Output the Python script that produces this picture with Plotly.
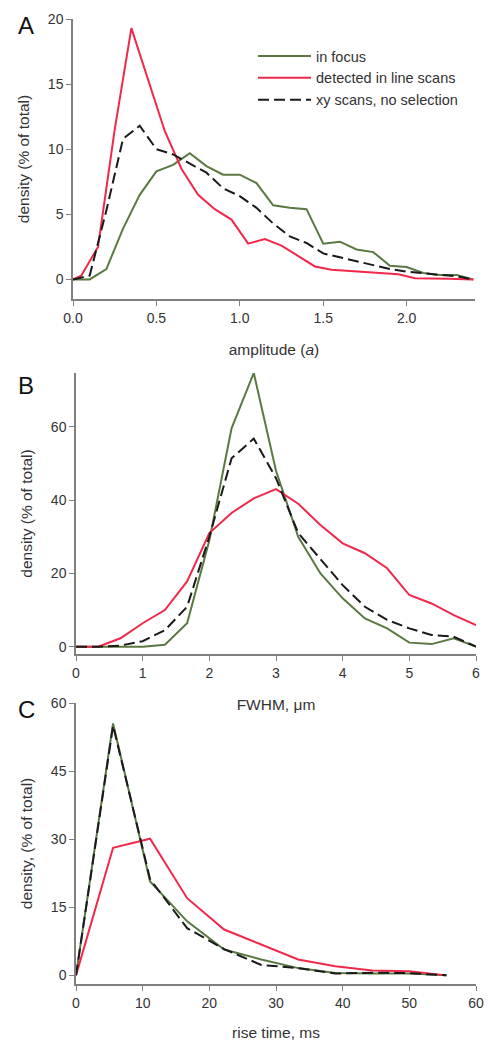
import plotly.graph_objects as go

W, H = 491, 1041

# panel A: amplitude
amp_x = [0.0, 0.1, 0.2, 0.3, 0.4, 0.5, 0.6, 0.7, 0.8, 0.9, 1.0, 1.1, 1.2, 1.3,
         1.4, 1.5, 1.6, 1.7, 1.8, 1.9, 2.0, 2.1, 2.2, 2.3, 2.4]
amp_focus = [0, 0, 0.8, 3.9, 6.5, 8.3, 8.8, 9.7, 8.7, 8.05, 8.05, 7.4, 5.7, 5.5,
             5.4, 2.75, 2.9, 2.3, 2.1, 1.05, 0.95, 0.5, 0.35, 0.35, 0]
amp_xy = [0, 0.3, 5.3, 10.8, 11.8, 10.0, 9.6, 8.9, 8.2, 7.0, 6.4, 5.5, 4.3, 3.3,
          2.8, 2.0, 1.7, 1.4, 1.05, 0.8, 0.6, 0.45, 0.35, 0.25, 0]
amp_line_x = [0.0, 0.05, 0.15, 0.25, 0.35, 0.45, 0.55, 0.65, 0.75, 0.85, 0.95, 1.05,
              1.15, 1.25, 1.35, 1.45, 1.55, 1.65, 1.75, 1.85, 1.95, 2.05, 2.15,
              2.25, 2.35, 2.4]
amp_line = [0, 0.3, 2.5, 11.5, 19.3, 15.3, 11.4, 8.5, 6.5, 5.4, 4.6, 2.75, 3.1,
            2.6, 1.8, 1.0, 0.75, 0.65, 0.55, 0.5, 0.4, 0.1, 0.05, 0.05, 0.02, 0]

# panel B: FWHM
fw_x = [0, 1/3, 2/3, 1, 4/3, 5/3, 2, 7/3, 8/3, 3, 10/3, 11/3, 4, 13/3, 14/3,
        5, 16/3, 17/3, 6]
fw_focus = [0, 0, 0, 0, 0.5, 6.4, 29, 59.6, 74.7, 48, 30, 20, 13.2, 7.7, 5,
            1.1, 0.7, 2.3, 0]
fw_line = [0, 0, 2.3, 6.4, 10, 17.8, 31, 36.5, 40.5, 43, 39, 33.2, 28.2, 25.5,
           21.4, 14.1, 11.8, 8.6, 5.9]
fw_xy = [0, 0, 0.3, 1.5, 4.5, 10.9, 30, 51.4, 56.8, 46, 31, 24, 16.8, 10.9,
         7.3, 5, 3.2, 2.7, 0]

# panel C: rise time
rt_x = [0, 5.56, 11.11, 16.67, 22.22, 27.78, 33.33, 38.89, 44.44, 50.0, 55.56]
rt_focus = [0, 55.5, 20.7, 11.9, 5.7, 3.5, 1.6, 0.5, 0.4, 0.4, 0]
rt_line = [0, 28.1, 30.1, 17.0, 10.1, 6.8, 3.5, 2.0, 1.1, 0.9, 0]
rt_xy = [0, 55.0, 21.2, 10.4, 5.8, 2.3, 1.6, 0.4, 0.6, 0.5, 0]

GREEN = "#5b7843"
RED = "#f0284a"
BLACK = "#1a1a1a"
FONT = "Arial, Liberation Sans, sans-serif"

fig = go.Figure()


def add_panel(n, x_focus, y_focus, x_line, y_line, x_xy, y_xy, legend):
    xa = "x" if n == 1 else f"x{n}"
    ya = "y" if n == 1 else f"y{n}"
    fig.add_trace(go.Scatter(x=x_focus, y=y_focus, mode="lines", name="in focus",
                             line=dict(color=GREEN, width=2),
                             xaxis=xa, yaxis=ya, showlegend=legend))
    fig.add_trace(go.Scatter(x=x_line, y=y_line, mode="lines",
                             name="detected in line scans",
                             line=dict(color=RED, width=2),
                             xaxis=xa, yaxis=ya, showlegend=legend))
    fig.add_trace(go.Scatter(x=x_xy, y=y_xy, mode="lines",
                             name="xy scans, no selection",
                             line=dict(color=BLACK, width=2, dash="11px,5px"),
                             xaxis=xa, yaxis=ya, showlegend=legend))


add_panel(1, amp_x, amp_focus, amp_line_x, amp_line, amp_x, amp_xy, True)
add_panel(2, fw_x, fw_focus, fw_x, fw_line, fw_x, fw_xy, False)
add_panel(3, rt_x, rt_focus, rt_x, rt_line, rt_x, rt_xy, False)


def px_dom(top, bottom):
    return [1 - bottom / H, 1 - top / H]


axis_common = dict(showline=True, linecolor="#808080", linewidth=1.5,
                   ticks="outside", ticklen=5, tickcolor="#808080",
                   showgrid=False, zeroline=False, automargin=False,
                   tickfont=dict(family=FONT, size=14, color="#333"),
                   title_font=dict(family=FONT, size=15.5, color="#333"))

fig.update_layout(
    width=W, height=H,
    margin=dict(l=0, r=0, t=0, b=0),
    paper_bgcolor="white", plot_bgcolor="white",
    font=dict(family=FONT, size=14, color="#333"),
    showlegend=True,
    legend=dict(x=253 / W, y=1 - 40 / H, xanchor="left", yanchor="top",
                bgcolor="rgba(0,0,0,0)", font=dict(size=14.5, color="#333"),
                tracegroupgap=0, itemwidth=53),
    xaxis=dict(axis_common, domain=[73 / W, 475 / W], range=[0, 2.41],
               tickvals=[0, 0.5, 1.0, 1.5, 2.0], tickformat=".1f",
               title=dict(text="amplitude (<i>a</i>)", standoff=20),
               anchor="y"),
    yaxis=dict(axis_common, domain=px_dom(19, 299), range=[-1.5, 20],
               tickvals=[0, 5, 10, 15, 20],
               title=dict(text="density (% of total)", standoff=14),
               anchor="x"),
    xaxis2=dict(axis_common, domain=[76 / W, 476 / W], range=[0, 6],
                tickvals=[0, 1, 2, 3, 4, 5, 6],
                title=dict(text="FWHM, μm", standoff=20), anchor="y2"),
    yaxis2=dict(axis_common, domain=px_dom(373, 654), range=[-2, 74.7],
                tickvals=[0, 20, 40, 60],
                title=dict(text="density (% of total)", standoff=14),
                anchor="x2"),
    xaxis3=dict(axis_common, domain=[76 / W, 476 / W], range=[0, 60],
                tickvals=[0, 10, 20, 30, 40, 50, 60],
                title=dict(text="rise time, ms", standoff=20), anchor="y3"),
    yaxis3=dict(axis_common, domain=px_dom(703, 984), range=[-1.9, 60],
                tickvals=[0, 15, 30, 45, 60],
                title=dict(text="density, (% of total)", standoff=14),
                anchor="x3"),
)

for letter, y in [("A", 25), ("B", 385), ("C", 709)]:
    fig.add_annotation(text=letter, xref="paper", yref="paper",
                       x=16 / W, y=1 - y / H, xanchor="left", yanchor="middle",
                       showarrow=False, font=dict(family=FONT, size=24, color="#111"))

# the page's default body margin would shift the figure by 8 px
fig.write_html("out.html", config={"displayModeBar": False},
               post_script="document.body.style.margin='0';"
                           "document.body.style.overflow='hidden';")
